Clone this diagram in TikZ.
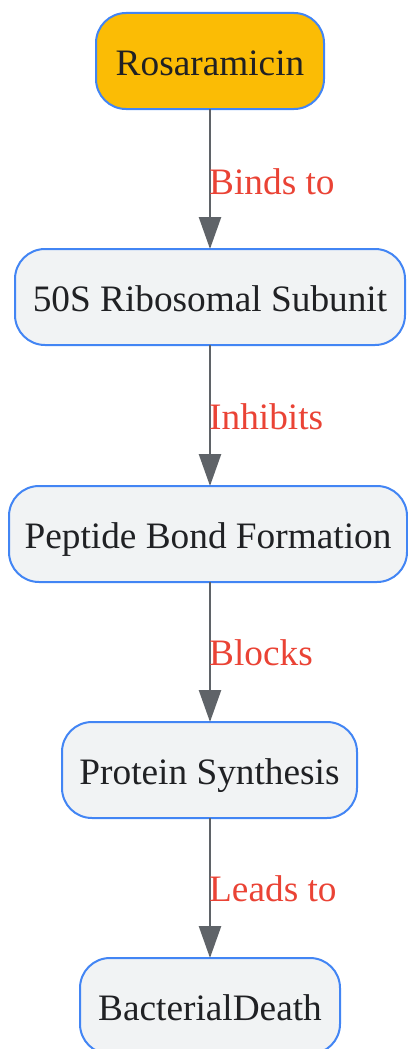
\documentclass[tikz,border=0pt]{standalone}
\usepackage{fontspec}
\setmainfont{Liberation Serif}
\usetikzlibrary{arrows.meta}
\definecolor{nodeborder}{HTML}{4285F4}
\definecolor{nodefill}{HTML}{F1F3F4}
\definecolor{rootfill}{HTML}{FBBC05}
\definecolor{textcol}{HTML}{202124}
\definecolor{edgecol}{HTML}{5F6368}
\definecolor{labelcol}{HTML}{EA4335}
\tikzset{
  box/.style={draw=nodeborder, line width=2pt, fill=nodefill, rounded corners=30pt,
    minimum height=96pt, inner sep=0pt, text=textcol, text height=30pt, text depth=2pt,
    font=\fontsize{37.3}{44}\selectfont},
  rootbox/.style={box, fill=rootfill},
  conn/.style={draw=edgecol, line width=2.5pt, -{Triangle[length=32pt,width=22pt]}},
  lbl/.style={text=labelcol, anchor=west, inner sep=0pt, font=\fontsize{37.3}{44}\selectfont}
}
\begin{document}
\begin{tikzpicture}[x=1pt,y=-1pt]
\useasboundingbox (0,0) rectangle (407,1049);
\node[rootbox, minimum width=228pt] (a) at (210,61) {Rosaramicin};
\node[box, minimum width=390pt] (b) at (210,297) {50S Ribosomal Subunit};
\node[box, minimum width=398pt] (c) at (208,534) {Peptide Bond Formation};
\node[box, minimum width=295pt] (d) at (209.5,770) {Protein Synthesis};
\node[box, minimum width=260pt] (e) at (210,1006) {BacterialDeath};
\coordinate (a1) at (210,109); \coordinate (b0) at (210,249);
\coordinate (b1) at (210,345); \coordinate (c0) at (210,486);
\coordinate (c1) at (210,582); \coordinate (d0) at (210,722);
\coordinate (d1) at (210,818); \coordinate (e0) at (210,958);
\draw[conn] (a1) -- (b0);
\draw[conn] (b1) -- (c0);
\draw[conn] (c1) -- (d0);
\draw[conn] (d1) -- (e0);
\node[lbl] (l1) at (209,182) {Binds to};
\node[lbl] (l2) at (209,417) {Inhibits};
\node[lbl] (l3) at (209,653) {Blocks};
\node[lbl] (l4) at (209,889) {Leads to};
\end{tikzpicture}
\end{document}
